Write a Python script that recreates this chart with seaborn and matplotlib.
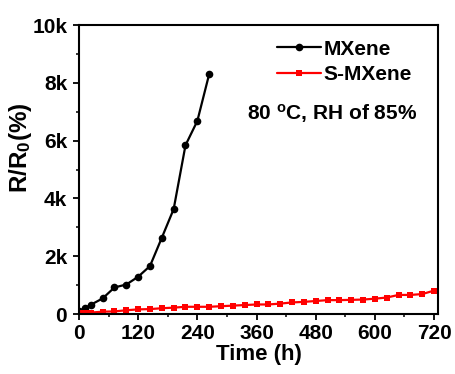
import matplotlib
matplotlib.use("Agg")
import matplotlib.pyplot as plt
import seaborn as sns
import pandas as pd
from matplotlib.ticker import MultipleLocator

# Data
mx_time = [0, 12, 24, 48, 72, 96, 120, 144, 168, 192, 216, 240, 264]
mx_val = [100, 200, 320, 540, 920, 1020, 1290, 1660, 2640, 3630, 5840, 6680, 8300]

smx_time = [0, 12, 24, 48, 72, 96, 120, 144, 168, 192, 216, 240, 264, 288, 312, 336,
            360, 384, 408, 432, 456, 480, 504, 528, 552, 576, 600, 624, 648, 672, 696, 720]
smx_val = [50, 50, 50, 80, 90, 130, 160, 170, 200, 220, 250, 250, 250, 270, 290, 310,
           330, 330, 360, 400, 420, 450, 480, 480, 490, 500, 530, 570, 660, 660, 690, 810]

x_ticks = [0, 120, 240, 360, 480, 600, 720]
y_ticks = [0, 2000, 4000, 6000, 8000, 10000]
y_tick_labels = ["0", "2k", "4k", "6k", "8k", "10k"]

sns.set_style("ticks")
plt.rcParams['font.family'] = ['Liberation Sans', 'DejaVu Sans']
plt.rcParams['font.weight'] = 'bold'
plt.rcParams['text.color'] = 'black'
plt.rcParams['axes.labelcolor'] = 'black'
plt.rcParams['xtick.color'] = 'black'
plt.rcParams['ytick.color'] = 'black'
plt.rcParams['mathtext.fontset'] = 'custom'
plt.rcParams['mathtext.rm'] = 'Liberation Sans:bold'
plt.rcParams['mathtext.it'] = 'Liberation Sans:bold'
plt.rcParams['mathtext.default'] = 'rm'

df1 = pd.DataFrame({"t": mx_time, "v": mx_val})
df2 = pd.DataFrame({"t": smx_time, "v": smx_val})

fig = plt.figure(figsize=(4.56, 3.74), dpi=100)
ax = fig.add_axes([0.1732, 0.1604, 0.9605 - 0.1732, 0.7727])

sns.lineplot(data=df1, x="t", y="v", ax=ax, color="black", marker="o",
             markersize=5.5, markeredgewidth=0, linewidth=1.6, label="MXene")
sns.lineplot(data=df2, x="t", y="v", ax=ax, color="#ff0000", marker="s",
             markersize=5, markeredgewidth=0, linewidth=1.6, label="S-MXene")

ax.set_xlim(0, 728)
ax.set_ylim(0, 10000)
ax.set_xticks(x_ticks)
ax.xaxis.set_minor_locator(MultipleLocator(60))
ax.set_yticks(y_ticks)
ax.set_yticklabels(y_tick_labels)
ax.yaxis.set_minor_locator(MultipleLocator(1000))

for s in ax.spines.values():
    s.set_linewidth(1.5)
    s.set_color("black")
    s.set_visible(True)

ax.tick_params(axis='both', which='major', direction='out', length=4.5, width=1.3,
               labelsize=15, pad=2.5, colors='black')
ax.tick_params(axis='y', which='major', pad=4)
ax.tick_params(axis='both', which='minor', direction='out', length=2.5, width=1.1)
for lab in ax.get_xticklabels() + ax.get_yticklabels():
    lab.set_fontweight('bold')

ax.set_xlabel("Time (h)", fontsize=16, fontweight='bold', labelpad=1, color='black')
ax.set_ylabel(r"R/R$_{0}$(%)", fontsize=17.5, fontweight='bold', color='black')
ax.yaxis.set_label_coords(-0.125, 0.574)

leg = ax.legend(loc="upper left", bbox_to_anchor=(0.528, 0.978), frameon=False,
                borderaxespad=0, handlelength=2.1, handletextpad=0.15,
                labelspacing=0.3, prop={'weight': 'bold', 'size': 15})
for t in leg.get_texts():
    t.set_color('black')

ax.text(0.705, 0.695, r"80 $^{o}$C, RH of 85%", transform=ax.transAxes,
        fontsize=15, fontweight='bold', ha='center', va='center', color='black')

fig.savefig("out.png", dpi=100)
